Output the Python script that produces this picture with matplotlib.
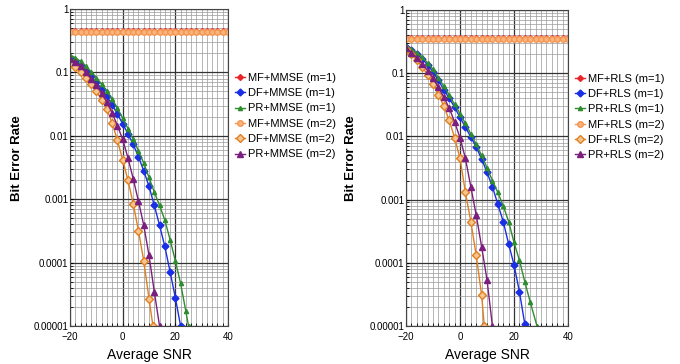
import numpy as np
import matplotlib.pyplot as plt
from matplotlib.ticker import FixedLocator, LogLocator, NullFormatter

plt.rcParams['font.family'] = ['Liberation Sans', 'DejaVu Sans']

# SNR grid used by the markers (every 2 dB)
snr_full = np.arange(-20, 41, 2)

# ---- left panel (MMSE) ----
mmse_mf1 = [0.45] * len(snr_full)
mmse_mf2 = [0.43] * len(snr_full)

mmse_df1_x = [-20, -18, -16, -14, -12, -10, -8, -6, -4, -2, 0, 2, 4, 6, 8, 10,
              12, 14, 16, 18, 20, 22]
mmse_df1_y = [0.17, 0.15, 0.13, 0.107, 0.088, 0.07, 0.055, 0.042, 0.031, 0.022,
              0.0155, 0.0108, 0.0073, 0.0047, 0.0028, 0.0016, 0.0008, 0.00039,
              0.00018, 0.000072, 0.000028, 0.00001]

mmse_pr1_x = [-20, -18, -16, -14, -12, -10, -8, -6, -4, -2, 0, 2, 4, 6, 8, 10,
              12, 14, 16, 18, 20, 22, 24, 25]
mmse_pr1_y = [0.19, 0.17, 0.15, 0.127, 0.103, 0.083, 0.065, 0.051, 0.038, 0.027,
              0.019, 0.013, 0.0088, 0.0058, 0.0037, 0.0022, 0.0013, 0.0008,
              0.00047, 0.00023, 0.000107, 0.000047, 0.000017, 0.00001]

mmse_df2_x = [-20, -18, -16, -14, -12, -10, -8, -6, -4, -2, 0, 2, 4, 6, 8, 10,
              11.5]
mmse_df2_y = [0.14, 0.12, 0.1, 0.082, 0.065, 0.05, 0.037, 0.026, 0.016, 0.0085,
              0.0042, 0.002, 0.00085, 0.00032, 0.000107, 0.000027, 0.00001]

mmse_pr2_x = [-20, -18, -16, -14, -12, -10, -8, -6, -4, -2, 0, 2, 4, 6, 8, 10,
              12, 14]
mmse_pr2_y = [0.165, 0.145, 0.125, 0.1, 0.08, 0.063, 0.047, 0.034, 0.023, 0.0145,
              0.0088, 0.0045, 0.0021, 0.00093, 0.00039, 0.00013, 0.000035, 0.00001]

# ---- right panel (RLS) ----
rls_mf1 = [0.36] * len(snr_full)
rls_mf2 = [0.35] * len(snr_full)

rls_df1_x = [-20, -18, -16, -14, -12, -10, -8, -6, -4, -2, 0, 2, 4, 6, 8, 10,
             12, 14, 16, 18, 20, 22, 24]
rls_df1_y = [0.26, 0.23, 0.2, 0.17, 0.135, 0.105, 0.077, 0.055, 0.04, 0.029,
             0.02, 0.014, 0.0098, 0.0068, 0.0044, 0.0027, 0.0016, 0.00085,
             0.00045, 0.0002, 0.000093, 0.000035, 0.0000107]

rls_pr1_x = [-20, -18, -16, -14, -12, -10, -8, -6, -4, -2, 0, 2, 4, 6, 8, 10,
             12, 14, 16, 18, 20, 22, 24, 26, 28.5]
rls_pr1_y = [0.27, 0.24, 0.21, 0.18, 0.145, 0.115, 0.085, 0.062, 0.045, 0.032,
             0.023, 0.016, 0.011, 0.0075, 0.005, 0.0032, 0.002, 0.0013, 0.0008,
             0.00045, 0.00021, 0.00011, 0.00005, 0.000024, 0.00001]

rls_df2_x = [-20, -18, -16, -14, -12, -10, -8, -6, -4, -2, 0, 2, 4, 6, 8, 9]
rls_df2_y = [0.24, 0.2, 0.16, 0.125, 0.095, 0.068, 0.046, 0.03, 0.018, 0.0095,
             0.0045, 0.0013, 0.00045, 0.000132, 0.000031, 0.00001]

rls_pr2_x = [-20, -18, -16, -14, -12, -10, -8, -6, -4, -2, 0, 2, 4, 6, 8, 10,
             12]
rls_pr2_y = [0.25, 0.21, 0.175, 0.14, 0.11, 0.083, 0.06, 0.042, 0.028, 0.017,
             0.0095, 0.0045, 0.0016, 0.00057, 0.00018, 0.000054, 0.00001]

fig = plt.figure(figsize=(6.8, 3.64), dpi=100)
ax1 = fig.add_axes([70 / 680, 38 / 364, 158 / 680, 317 / 364])
ax2 = fig.add_axes([406 / 680, 38 / 364, 162 / 680, 316 / 364])


def draw_panel(ax, name, mf1, mf2, df1, pr1, df2, pr2):
    ax.plot(snr_full, mf1, color="#E8262A", marker="D", ms=3, lw=1,
            label=f"MF+{name} (m=1)")
    ax.plot(df1[0], df1[1], color="#1A2EE6", marker="D", ms=3.5, lw=1,
            label=f"DF+{name} (m=1)")
    ax.plot(pr1[0], pr1[1], color="#2E8B2E", marker="^", ms=3, lw=1,
            label=f"PR+{name} (m=1)")
    ax.plot(snr_full, mf2, color="#F5964F", marker="o", ms=4, lw=1,
            mfc="#F9B47E", label=f"MF+{name} (m=2)")
    ax.plot(df2[0], df2[1], color="#E07F20", marker="D", ms=4, lw=1,
            mfc="#F6C58F", label=f"DF+{name} (m=2)")
    ax.plot(pr2[0], pr2[1], color="#7A1F7E", marker="^", ms=4, lw=1,
            label=f"PR+{name} (m=2)")

    ax.set_yscale("log")
    ax.set_xlim(-20, 40)
    ax.set_ylim(1e-5, 1)
    ax.xaxis.set_major_locator(FixedLocator([-20, 0, 20, 40]))
    ax.xaxis.set_minor_locator(FixedLocator(np.arange(-20, 41, 2)))
    ax.yaxis.set_major_locator(FixedLocator([1e-5, 1e-4, 1e-3, 1e-2, 1e-1, 1]))
    ax.yaxis.set_minor_locator(LogLocator(base=10, subs=np.arange(2, 10)))
    ax.yaxis.set_minor_formatter(NullFormatter())
    ax.set_yticklabels(["0.00001", "0.0001", "0.001", "0.01", "0.1", "1"])
    ax.grid(True, which="major", color="#333333", lw=0.9)
    ax.grid(True, which="minor", color="#999999", lw=0.5)
    ax.tick_params(which="both", direction="in", labelsize=7, length=2)
    ax.tick_params(axis="y", pad=1)
    ax.tick_params(axis="x", pad=4)
    for s in ax.spines.values():
        s.set_color("#444444")
    ax.set_xlabel("Average SNR", fontsize=10, labelpad=5)
    ax.set_ylabel("Bit Error Rate", fontsize=9.5, fontweight="bold",
                  labelpad=7)
    ax.yaxis.set_label_coords(-0.30, 0.53)
    ax.legend(loc="upper left", bbox_to_anchor=(1.0, 0.82), frameon=False,
              fontsize=8, handlelength=0.9, handletextpad=0.3,
              labelspacing=0.48, borderaxespad=0.2)


draw_panel(ax1, "MMSE", mmse_mf1, mmse_mf2, (mmse_df1_x, mmse_df1_y),
           (mmse_pr1_x, mmse_pr1_y), (mmse_df2_x, mmse_df2_y),
           (mmse_pr2_x, mmse_pr2_y))
draw_panel(ax2, "RLS", rls_mf1, rls_mf2, (rls_df1_x, rls_df1_y),
           (rls_pr1_x, rls_pr1_y), (rls_df2_x, rls_df2_y),
           (rls_pr2_x, rls_pr2_y))

fig.savefig("out.png", dpi=100)
